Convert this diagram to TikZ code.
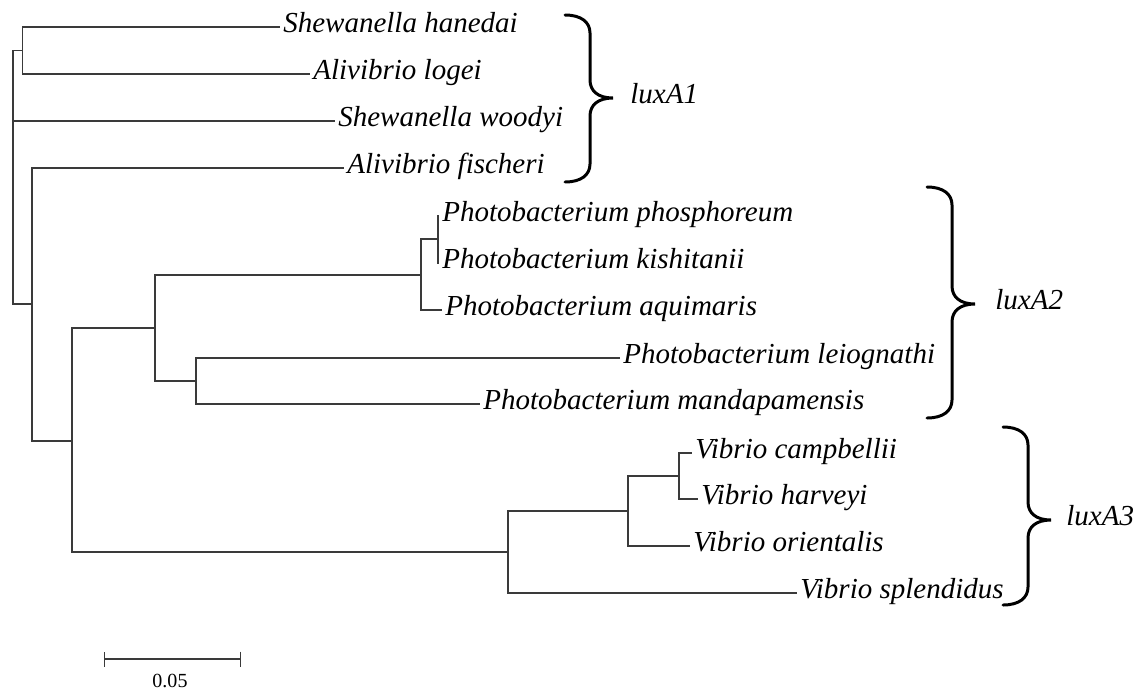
\documentclass[tikz,border=0pt]{standalone}
\usepackage{fontspec}
\setmainfont{Liberation Serif}
\usepackage{tikz}
\usetikzlibrary{arrows.meta, positioning, calc}
\definecolor{BranchGray}{HTML}{3A3A3A}

% curly brace: x of ends, top y, tip y, bottom y, name of tip
\newcommand{\cladebrace}[5]{%
  \draw[clade brace] (#1,#2) .. controls +(0.32,0) and +(0,0.22) .. ({#1+0.5},{#2-0.36})
    -- ({#1+0.5},{#3+0.36})
    .. controls +(0,-0.22) and +(-0.3,0) .. ({#1+0.96},#3) coordinate (#5)
    .. controls +(-0.3,0) and +(0,0.22) .. ({#1+0.5},{#3-0.36})
    -- ({#1+0.5},{#4+0.36})
    .. controls +(0,-0.22) and +(0.32,0) .. (#1,#4);
}

\begin{document}
\begin{tikzpicture}[
    branch/.style={draw=BranchGray, line width=0.6pt},
    taxon/.style={anchor=west, inner xsep=0.06cm, inner ysep=0pt, text height=0.66em, text depth=0pt, font=\fontsize{16.5}{18}\selectfont\itshape},
    group/.style={taxon, inner xsep=0pt},
    clade brace/.style={line width=1.7pt, line cap=round}
]
    \useasboundingbox (0,0) rectangle (22.84,-13.82);

    % inner nodes
    \coordinate (root) at (0.26, -3.54);
    \coordinate (a) at (0.45, -1.01);
    \coordinate (b) at (0.64, -6.08);
    \coordinate (c) at (1.44, -8.82);
    \coordinate (d) at (3.10, -6.56);
    \coordinate (f) at (8.42, -5.50);
    \coordinate (h) at (8.76, -4.78);
    \coordinate (g) at (3.92, -7.62);
    \coordinate (e) at (10.16, -11.04);
    \coordinate (i) at (12.56, -10.22);
    \coordinate (j) at (13.58, -9.52);

    % taxa
    \node (hanedai) [taxon] at (5.60, -0.54) {Shewanella hanedai};
    \node (logei) [taxon] at (6.20, -1.48) {Alivibrio logei};
    \node (woodyi) [taxon] at (6.70, -2.42) {Shewanella woodyi};
    \node (fischeri) [taxon] at (6.88, -3.36) {Alivibrio fischeri};
    \node (phos) [taxon] at (8.78, -4.32) {Photobacterium phosphoreum};
    \node (kish) [taxon] at (8.78, -5.26) {Photobacterium kishitanii};
    \node (aqui) [taxon] at (8.84, -6.20) {Photobacterium aquimaris};
    \node (leio) [taxon] at (12.40, -7.16) {Photobacterium leiognathi};
    \node (mand) [taxon] at (9.60, -8.08) {Photobacterium mandapamensis};
    \node (camp) [taxon] at (13.84, -9.06) {Vibrio campbellii};
    \node (harv) [taxon] at (13.96, -9.98) {Vibrio harveyi};
    \node (orie) [taxon] at (13.80, -10.92) {Vibrio orientalis};
    \node (splen) [taxon] at (15.94, -11.86) {Vibrio splendidus};

    % branches
    \draw[branch] (root) |- (a);
    \draw[branch] (root) |- (woodyi);
    \draw[branch] (root) |- (b);
    \draw[branch] (a) |- (hanedai);
    \draw[branch] (a) |- (logei);
    \draw[branch] (b) |- (fischeri);
    \draw[branch] (b) |- (c);
    \draw[branch] (c) |- (d);
    \draw[branch] (c) |- (e);
    \draw[branch] (d) |- (f);
    \draw[branch] (d) |- (g);
    \draw[branch] (f) |- (h);
    \draw[branch] (f) |- (aqui);
    \draw[branch] (h) |- (phos);
    \draw[branch] (h) |- (kish);
    \draw[branch] (g) |- (leio);
    \draw[branch] (g) |- (mand);
    \draw[branch] (e) |- (i);
    \draw[branch] (e) |- (splen);
    \draw[branch] (i) |- (j);
    \draw[branch] (i) |- (orie);
    \draw[branch] (j) |- (camp);
    \draw[branch] (j) |- (harv);

    % groups
    \cladebrace{11.30}{-0.30}{-1.96}{-3.64}{tipA1}
    \cladebrace{18.54}{-3.74}{-6.08}{-8.36}{tipA2}
    \cladebrace{20.06}{-8.54}{-10.40}{-12.10}{tipA3}
    \node (luxA1) [group, right=0.34cm of tipA1] {luxA1};
    \node (luxA2) [group, right=0.40cm of tipA2] {luxA2};
    \node (luxA3) [group, right=0.30cm of tipA3] {luxA3};

    % scale bar
    \coordinate (sbl) at (2.08, -13.18);
    \coordinate (sbr) at (4.82, -13.18);
    \draw[branch, {Bar[width=0.3cm]}-{Bar[width=0.3cm]}] (sbl) -- (sbr);
    \node (sblabel) [inner sep=0pt, font=\fontsize{11.4}{13}\selectfont] at (3.40, -13.62) {0.05};
\end{tikzpicture}
\end{document}
